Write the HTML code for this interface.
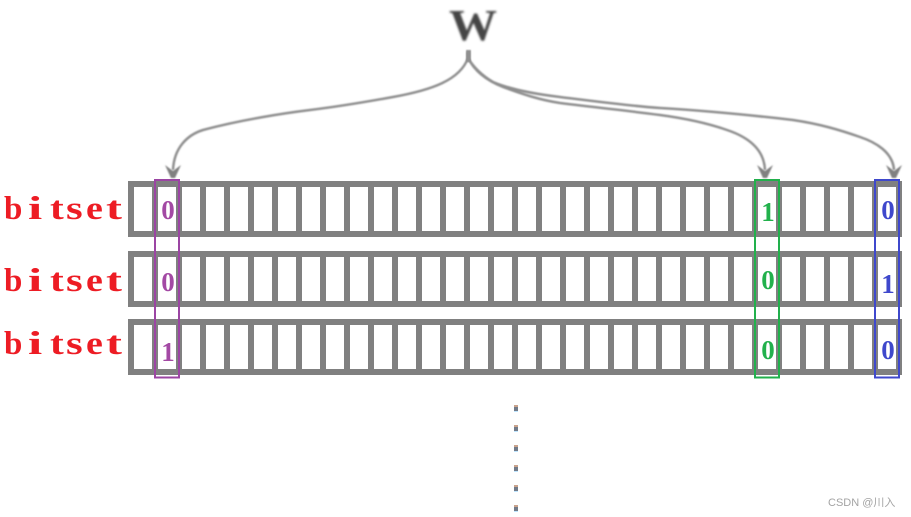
<!DOCTYPE html>
<html><head><meta charset="utf-8"><style>
html,body{margin:0;padding:0;background:#fff;width:911px;height:517px;overflow:hidden}
svg{display:block}
</style></head><body>
<svg xmlns="http://www.w3.org/2000/svg" width="911" height="517" viewBox="0 0 911 517">
<defs>
<filter id="b" x="-10%" y="-10%" width="120%" height="120%"><feGaussianBlur stdDeviation="0.7"/></filter>
<filter id="w" x="-20%" y="-20%" width="140%" height="140%"><feGaussianBlur stdDeviation="1"/></filter>
<pattern id="cells" x="128" y="0" width="24" height="517" patternUnits="userSpaceOnUse"><rect x="0" y="0" width="6" height="517" fill="#808080"/></pattern>
</defs>
<text x="449" y="40" font-family="Liberation Serif" font-weight="bold" font-size="44" fill="#444" textLength="48" lengthAdjust="spacingAndGlyphs" filter="url(#w)">W</text>
<g fill="none" stroke="#8f8f8f" stroke-width="2.500" filter="url(#b)">
<path d="M468 52 L468 58 C460 80 432 90 393 97 C360 103 335 107 310 110 C285 113 240 120 203 130 C187 135 174 148 173 170"/>
<path d="M468 52 L468 58 C474 70 485 80 503 87 C522 94 540 100 560 103 C600 108 630 111 660 115 C690 119 710 124 727 130 C745 136 764 147 765 170"/>
<path d="M468 52 L468 58 C474 68 483 76 493 82 C512 90 535 94 560 97 C600 102 630 106 660 108 C710 111 750 115 793 120 C820 124 840 130 860 137 C875 142 893 152 894 170"/>
</g>
<rect x="466" y="50" width="5" height="12" fill="#8f8f8f" filter="url(#b)"/>
<g fill="#808080" filter="url(#b)">
<path d="M165 165 L173 171 L181 165 L175 178 L171 178 Z"/>
<path d="M757 165 L765 171 L773 165 L767 178 L763 178 Z"/>
<path d="M886 165 L894 171 L902 165 L896 178 L892 178 Z"/>
</g>
<g fill="#808080">
<rect x="128" y="181" width="774" height="6"/><rect x="128" y="231" width="774" height="6"/>
<rect x="128" y="251" width="774" height="6"/><rect x="128" y="301" width="774" height="6"/>
<rect x="128" y="319" width="774" height="6"/><rect x="128" y="369" width="774" height="6"/>
</g>
<rect x="128" y="181" width="774" height="56" fill="url(#cells)"/>
<rect x="128" y="251" width="774" height="56" fill="url(#cells)"/>
<rect x="128" y="319" width="774" height="56" fill="url(#cells)"/>
<g font-family="Liberation Serif" font-size="33" font-weight="bold" fill="#ed1c24">
<text transform="translate(4,219) scale(1,1)">b</text>
<text transform="translate(28,219) scale(1.55,1)">i</text>
<text transform="translate(50,219) scale(1.25,1)">t</text>
<text transform="translate(66,219) scale(1.3,1)">s</text>
<text transform="translate(86,219) scale(1.15,1)">e</text>
<text transform="translate(106,219) scale(1.45,1)">t</text>
<text transform="translate(4,291) scale(1,1)">b</text>
<text transform="translate(28,291) scale(1.55,1)">i</text>
<text transform="translate(50,291) scale(1.25,1)">t</text>
<text transform="translate(66,291) scale(1.3,1)">s</text>
<text transform="translate(86,291) scale(1.15,1)">e</text>
<text transform="translate(106,291) scale(1.45,1)">t</text>
<text transform="translate(4,354) scale(1,1)">b</text>
<text transform="translate(28,354) scale(1.55,1)">i</text>
<text transform="translate(50,354) scale(1.25,1)">t</text>
<text transform="translate(66,354) scale(1.3,1)">s</text>
<text transform="translate(86,354) scale(1.15,1)">e</text>
<text transform="translate(106,354) scale(1.45,1)">t</text>
</g>
<g fill="none" stroke-width="2">
<rect x="155" y="180" width="24" height="197.500" stroke="#9b45a3"/>
<rect x="755" y="180" width="24" height="197.500" stroke="#22b04c"/>
<rect x="875" y="180" width="24" height="197.500" stroke="#3f48cc"/>
</g>
<g font-family="Liberation Serif" font-size="27" font-weight="bold" text-anchor="middle">
<g fill="#a349a4"><text x="168" y="219">0</text><text x="168" y="291">0</text><text x="168" y="361">1</text></g>
<g fill="#22b14c"><text x="768" y="221">1</text><text x="768" y="289">0</text><text x="768" y="359">0</text></g>
<g fill="#3f48cc"><text x="888" y="219">0</text><text x="888" y="293">1</text><text x="888" y="359">0</text></g>
</g>
<g>
<rect x="514" y="405" width="4" height="2" fill="#c9a38c"/><rect x="514" y="407" width="4" height="4" fill="#717a88"/><rect x="514" y="411" width="4" height="1" fill="#bfe6ff"/>
<rect x="514" y="425" width="4" height="2" fill="#c9a38c"/><rect x="514" y="427" width="4" height="4" fill="#717a88"/><rect x="514" y="431" width="4" height="1" fill="#bfe6ff"/>
<rect x="514" y="445" width="4" height="2" fill="#c9a38c"/><rect x="514" y="447" width="4" height="4" fill="#717a88"/><rect x="514" y="451" width="4" height="1" fill="#bfe6ff"/>
<rect x="514" y="465" width="4" height="2" fill="#c9a38c"/><rect x="514" y="467" width="4" height="4" fill="#717a88"/><rect x="514" y="471" width="4" height="1" fill="#bfe6ff"/>
<rect x="514" y="485" width="4" height="2" fill="#c9a38c"/><rect x="514" y="487" width="4" height="4" fill="#717a88"/><rect x="514" y="491" width="4" height="1" fill="#bfe6ff"/>
<rect x="514" y="505" width="4" height="2" fill="#c9a38c"/><rect x="514" y="507" width="4" height="4" fill="#717a88"/><rect x="514" y="511" width="4" height="1" fill="#bfe6ff"/>
</g>
<text x="828" y="506" font-family="'Liberation Sans','Noto Sans CJK SC',sans-serif" font-size="11" fill="#a3a3a3">CSDN @川入</text>
</svg>
</body></html>
